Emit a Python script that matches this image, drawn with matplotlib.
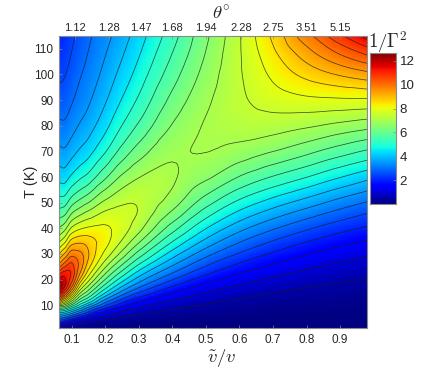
import numpy as np
import matplotlib
matplotlib.use("Agg")
import matplotlib.pyplot as plt
import matplotlib.tri as mtri

plt.rcParams['font.family'] = ['Liberation Sans', 'DejaVu Sans']
plt.rcParams['mathtext.fontset'] = 'cm'

# Values (contours every 0.5) per column of v/v-bar position
v_ratio = [0.062, 0.08, 0.1, 0.125, 0.15, 0.2, 0.25, 0.3, 0.4, 0.5, 0.6, 0.7, 0.8, 0.9, 0.98]
temperature = [1.1, 3, 5, 7, 9, 12, 15, 18, 22, 26, 30, 35, 40, 46, 52, 60, 70, 80, 90, 100, 108, 115]

col_062 = [.33, 1.8, 3.1, 4.4, 6.2, 9.4, 11.9, 12.9, 10.7, 9.4, 8.35, 7.5, 6.5, 5.75, 5.1, 4.35, 3.65, 3.1, 2.75, 2.42, 2.2, 2.0]
col_080 = [.2, 1.35, 2.9, 4.2, 6.0, 8.5, 10.6, 11.8, 11.4, 10.05, 8.9, 7.75, 6.75, 5.85, 5.0, 4.2, 3.55, 3.05, 2.7, 2.45, 2.3, 2.2]
col_100 = [.13, .95, 2.2, 3.6, 5.0, 7.3, 9.2, 10.6, 11.1, 10.85, 9.95, 8.8, 7.7, 6.6, 5.65, 4.6, 3.8, 3.3, 2.95, 2.65, 2.5, 2.45]
col_125 = [.088, .65, 1.7, 3.0, 4.3, 5.6, 6.8, 7.85, 9.4, 10.1, 9.7, 8.85, 7.95, 6.9, 5.93, 4.9, 4.08, 3.55, 3.2, 2.97, 2.83, 2.72]
col_150 = [.061, .45, 1.2, 2.25, 3.3, 5.35, 6.35, 7.1, 7.95, 8.7, 9.15, 8.75, 8.05, 7.25, 6.25, 5.0, 4.25, 3.7, 3.35, 3.15, 3.05, 2.95]
col_200 = [.035, .256, .7, 1.33, 2.1, 3.4, 4.6, 5.45, 6.35, 7.15, 7.8, 8.25, 8.15, 7.65, 7.1, 5.85, 4.85, 4.25, 3.9, 3.65, 3.5, 3.4]
col_250 = [.022, .163, .45, .87, 1.4, 2.3, 3.4, 4.2, 5.2, 6.0, 6.9, 7.55, 7.8, 7.7, 7.4, 6.75, 5.6, 4.95, 4.5, 4.15, 3.95, 3.8]
col_300 = [.015, .114, .315, .61, 1.0, 1.7, 2.55, 3.3, 4.1, 4.96, 5.7, 6.55, 7.3, 7.6, 7.5, 7.1, 6.2, 5.45, 5.0, 4.68, 4.48, 4.3]
col_400 = [.0086, .064, .178, .35, .57, 1.02, 1.55, 2.15, 2.95, 3.6, 4.25, 5.0, 5.63, 6.5, 7.0, 7.15, 6.9, 6.5, 6.15, 5.8, 5.5, 5.25]
col_500 = [.0055, .041, .114, .224, .37, .66, 1.0, 1.45, 2.03, 2.6, 3.2, 3.86, 4.5, 5.17, 5.95, 6.75, 7.15, 7.1, 6.9, 6.65, 6.5, 6.4]
col_600 = [.004, .029, .08, .155, .26, .45, .7, 1.0, 1.45, 1.94, 2.44, 3.06, 3.6, 4.27, 4.96, 5.9, 7.0, 7.3, 7.4, 7.4, 7.35, 7.3]
col_700 = [.003, .021, .058, .114, .19, .335, .52, .75, 1.12, 1.53, 1.95, 2.5, 3.05, 3.73, 4.37, 5.3, 6.7, 7.35, 7.75, 8.05, 8.25, 8.4]
col_800 = [.002, .016, .044, .087, .144, .255, .4, .57, .84, 1.18, 1.55, 2.05, 2.63, 3.39, 4.15, 5.25, 6.35, 7.25, 7.8, 8.65, 9.35, 10.0]
col_900 = [.0017, .013, .035, .069, .114, .2, .317, .45, .67, .93, 1.24, 1.68, 2.2, 2.85, 3.55, 4.7, 5.9, 7.1, 7.7, 8.85, 10.25, 11.3]
col_980 = [.0014, .011, .03, .058, .096, .17, .27, .385, .575, .8, 1.07, 1.45, 1.9, 2.45, 3.1, 4.0, 5.4, 6.9, 7.5, 8.85, 10.3, 11.9]

columns = [col_062, col_080, col_100, col_125, col_150, col_200, col_250, col_300,
           col_400, col_500, col_600, col_700, col_800, col_900, col_980]
levels = [0.5 * k for k in range(1, 26)]

top_positions = [.11, .21, .305, .40, .50, .605, .70, .80, .90]
top_labels = ['1.12', '1.28', '1.47', '1.68', '1.94', '2.28', '2.75', '3.51', '5.15']
bottom_ticks = [.1, .2, .3, .4, .5, .6, .7, .8, .9]
left_ticks = [10, 20, 30, 40, 50, 60, 70, 80, 90, 100, 110]
bar_ticks = [2, 4, 6, 8, 10, 12]
VMIN, VMAX = 0.0, 12.67
EDGE = '#8a8a8a'
TXT = '#262626'
SMOOTH = 0.2


def second_diff(u):
    """Second divided differences on the unevenly spaced positions u."""
    n = len(u)
    D = np.zeros((n - 2, n))
    for i in range(n - 2):
        a, b = u[i + 1] - u[i], u[i + 2] - u[i + 1]
        D[i, i] = 2 / (a * (a + b))
        D[i, i + 1] = -2 / (a * b)
        D[i, i + 2] = 2 / (b * (a + b))
    return D * np.mean(np.diff(u)) ** 2


lx, lt = np.log(v_ratio), np.log(temperature)
Z = np.array(columns)
nx, nt = Z.shape
Dx, Dt = second_diff(lx), second_diff(lt)
P = np.kron(Dx.T @ Dx, np.eye(nt)) + np.kron(np.eye(nx), Dt.T @ Dt)
Zs = np.exp(np.linalg.solve(np.eye(nx * nt) + SMOOTH * P, np.log(Z).ravel())).reshape(nx, nt)

X, Y = np.meshgrid(lx, lt, indexing='ij')
base = mtri.Triangulation(X.ravel(), Y.ravel())
interp = mtri.CubicTriInterpolator(base, Zs.ravel(), kind='geom')
fine, zfine = mtri.UniformTriRefiner(base).refine_field(Zs.ravel(), interp, subdiv=3)
tri = mtri.Triangulation(np.exp(fine.x), np.exp(fine.y), fine.triangles)

fig = plt.figure(figsize=(4.36, 3.68), dpi=100)
W, H = 436.0, 368.0
ax = fig.add_axes([59 / W, 1 - 328 / H, 308.3 / W, 292.5 / H])
ax.tripcolor(tri, zfine, shading='gouraud', cmap='jet', vmin=VMIN, vmax=VMAX)
ax.tricontour(tri, zfine, levels=levels, colors='#1a1a1a', linewidths=0.55, alpha=0.75)
ax.set_xlim(0.062, 0.981)
ax.set_ylim(1.1, 115.2)
ax.set_xticks(bottom_ticks)
ax.set_xticklabels([f'{t:.1f}' for t in bottom_ticks])
ax.set_yticks(left_ticks)
ax.tick_params(direction='in', length=2, width=0.5, color=EDGE, labelsize=8.5,
               labelcolor=TXT, pad=4)
for s in ax.spines.values():
    s.set_color(EDGE)
    s.set_linewidth(0.8)
ax.set_ylabel('T (K)', fontsize=10.5, color=TXT, labelpad=-3)
ax.set_xlabel(r'$\tilde{v}/v$', fontsize=13.5, color=TXT, labelpad=1, x=0.529)

top = ax.twiny()
top.set_xlim(ax.get_xlim())
top.set_xticks(top_positions)
top.set_xticklabels(top_labels)
top.tick_params(direction='in', length=2, width=0.5, color=EDGE, labelsize=8,
                labelcolor=TXT, pad=2)
for s in top.spines.values():
    s.set_visible(False)
top.set_xlabel(r'$\theta^{\circ}$', fontsize=13.5, color=TXT, labelpad=2, x=0.527)

cax = fig.add_axes([370 / W, 1 - 204 / H, 25.5 / W, 151 / H])
g = np.linspace(VMIN, VMAX, 256).reshape(-1, 1)
cax.imshow(g, origin='lower', aspect='auto', cmap='jet', vmin=VMIN, vmax=VMAX,
           extent=[0, 1, VMIN, VMAX])
cax.set_xticks([])
cax.yaxis.tick_right()
cax.set_yticks(bar_ticks)
cax.tick_params(axis='y', direction='in', length=2, width=0.5, color=EDGE,
                labelsize=9.5, labelcolor=TXT, pad=3)
for s in cax.spines.values():
    s.set_color(EDGE)
    s.set_linewidth(0.8)
fig.text(388 / W, 1 - 42 / H, r'$1/\Gamma^2$', fontsize=13.5, color=TXT, ha='center', va='center')
fig.savefig('out.png', dpi=100)
